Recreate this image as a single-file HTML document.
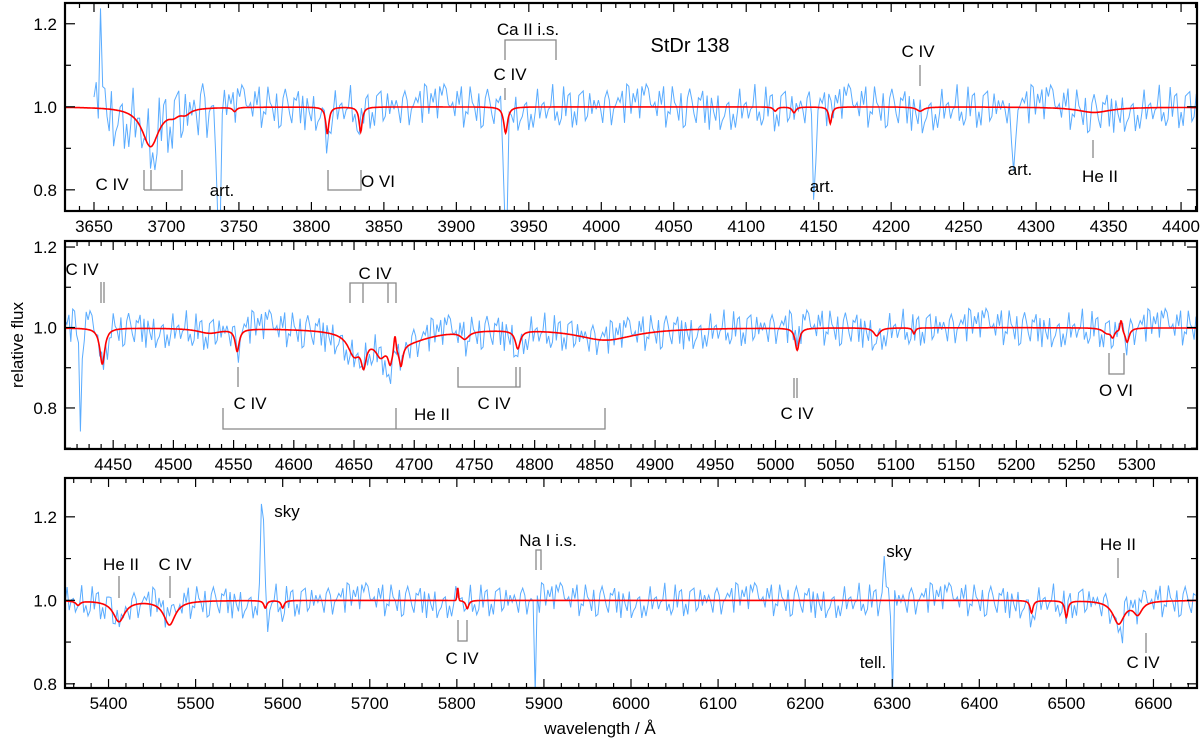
<!DOCTYPE html>
<html><head><meta charset="utf-8"><style>
html,body{margin:0;padding:0;background:#fff;}
svg{display:block;font-family:"Liberation Sans",sans-serif;}
.tl{font-size:17px;fill:#000;}
.an{font-size:17px;fill:#000;}
.br{stroke:#888;stroke-width:1.3;fill:none;}
</style></head><body>
<svg id="chart" width="1200" height="739" viewBox="0 0 1200 739" xmlns="http://www.w3.org/2000/svg">
<text class="tl" transform="translate(23,345) rotate(-90)" text-anchor="middle">relative flux</text>
<text class="tl" x="600" y="734" text-anchor="middle">wavelength / Å</text>
<text x="690" y="52" text-anchor="middle" style="font-size:20px">StDr 138</text>
</svg>
<script>
// ---- data ----
const panelRanges = [[3630, 4411], [4410, 5350], [5350, 6650]];
const fluxRanges = [[0.749, 1.25], [0.698, 1.215], [0.79, 1.293]];
const xMajorTicks = [
  [3650,3700,3750,3800,3850,3900,3950,4000,4050,4100,4150,4200,4250,4300,4350,4400],
  [4450,4500,4550,4600,4650,4700,4750,4800,4850,4900,4950,5000,5050,5100,5150,5200,5250,5300],
  [5400,5500,5600,5700,5800,5900,6000,6100,6200,6300,6400,6500,6600]];
const xMinorStep = [10, 10, 20];
const yTicks = [0.8, 1.0, 1.2];
// model absorption lines: wavelength, depth, width
const lineWave = [3689,3705,3713,3747,3811,3834,3934,4120,4133,4158,4220,4340,
  4441,4553,4530,4650,4658,4672,4680,4686,4689,4742,4786,4859,5018,5084,5115,5275,5280,5292,
  5365,5412,5470,5580,5600,5812,6460,6500,6560,6582];
const lineDepth = [0.095,0.012,0.012,0.01,0.065,0.06,0.063,0.01,0.014,0.04,0.01,0.013,
  0.09,0.055,0.012,0.05,0.06,0.035,0.04,0.04,0.05,0.018,0.045,0.03,0.055,0.02,0.015,0.012,0.02,0.035,
  0.01,0.05,0.058,0.018,0.018,0.02,0.03,0.04,0.055,0.03];
const lineWidth = [7,4,4,1.5,1.3,1.3,1.6,1.5,1.5,1.2,3,14,
  2.5,2,12,6,2.5,5,2,30,1.8,4,2.5,30,2,3,1.3,4,2,2,
  3,8,8,2,2,2,2,2,8,6];
// emission features in model
const emWave = [4684, 5287, 5801];
const emHeight = [0.04, 0.025, 0.03];
// features in observed spectrum: wavelength, delta flux, half width
const featWave = [3655,3736,3934,4147,4284,4423,4443,4680,5577,5582,5890,6290,6300,6562];
const featDelta = [0.22,-0.33,-0.27,-0.2,-0.19,-0.27,-0.04,-0.08,0.25,-0.13,-0.23,0.1,-0.23,-0.04];
const featHalf = [1.5,2,1.5,1.5,1.5,1.5,2,2,3,1.2,1.5,2,1.2,4];
const noise = [0.3,-0.6,0.9,-0.2,0.5,-1.0,0.1,0.7,-0.4,0.2,-0.8,1.0,-0.3,0.4,-0.7,0.6,0.0,-0.5,0.8,-0.9,
  0.2,0.5,-0.3,-0.6,0.9,0.1,-0.2,0.7,-1.0,0.3,0.6,-0.4,0.0,0.8,-0.7,0.4,-0.1,-0.9,0.5,0.2,
  -0.5,1.0,-0.2,0.3,-0.8,0.6,-0.4,0.1,0.9,-0.6,-0.1,0.4,-0.9,0.7,0.2,-0.3,0.5,-0.7,0.8,-0.2,
  0.1,-0.5,0.6,-1.0,0.4,0.3,-0.8,0.9,-0.1,0.2,-0.6,0.7,-0.3,0.5,-0.9,0.0,0.8,-0.4,0.3,-0.7,
  0.6,-0.2,1.0,-0.5,0.1,-0.8,0.4,0.7,-0.3,-0.6,0.9,0.2,-0.1];
const noiseAmp = [0.055, 0.048, 0.042];
const obsStart = [3650, 4410, 5350];
const obsStep = [1.5, 1.6, 2.4];
// ---- layout ----
const frames = [{x0:65,x1:1197,y0:3,y1:211},{x0:65,x1:1197,y0:241,y1:449},{x0:65,x1:1197,y0:478,y1:688}];
const NS = "http://www.w3.org/2000/svg";
const svg = document.getElementById("chart");
function mk(tag, attrs, parent){const e=document.createElementNS(NS,tag);for(const k in attrs)e.setAttribute(k,attrs[k]);(parent||svg).appendChild(e);return e;}
function model(w){let f=1;for(let i=0;i<lineWave.length;i++){const d=(w-lineWave[i])/lineWidth[i];f-=lineDepth[i]/(1+d*d);}
  for(let i=0;i<emWave.length;i++){const d=(w-emWave[i])/1.2;f+=emHeight[i]*Math.exp(-d*d);}return f;}
function feat(w){let f=0;for(let i=0;i<featWave.length;i++){const d=(w-featWave[i])/featHalf[i];f+=featDelta[i]*Math.exp(-d*d);}return f;}
frames.forEach((fr,p)=>{
  const [w0,w1]=panelRanges[p],[f0,f1]=fluxRanges[p];
  const X=w=>fr.x0+(w-w0)/(w1-w0)*(fr.x1-fr.x0);
  const Y=f=>fr.y1-(f-f0)/(f1-f0)*(fr.y1-fr.y0);
  const g=mk("g",{});
  
  
  const cid="clip"+p;
  const cp=mk("clipPath",{id:cid},g);mk("rect",{x:fr.x0,y:fr.y0,width:fr.x1-fr.x0,height:fr.y1-fr.y0},cp);
  let d="",i=0;
  for(let w=obsStart[p];w<=w1;w+=obsStep[p],i++){
    let amp=noiseAmp[p]*(p===0&&w<3730?1.6:1);
    const v=model(w)+feat(w)+amp*noise[(i*7+p*13)%noise.length];
    d+=(d?"L":"M")+X(w).toFixed(1)+","+Y(v).toFixed(1);
  }
  const obs=mk("path",{d:d,fill:"none",stroke:"#5aacff","stroke-width":"1","clip-path":"url(#"+cid+")"},g);
  
  
  let m="";
  for(let w=w0;w<=w1;w+=0.4){m+=(m?"L":"M")+X(w).toFixed(1)+","+Y(model(w)).toFixed(1);}
  const mod=mk("path",{d:m,fill:"none",stroke:"#ff0000","stroke-width":"1.6","clip-path":"url(#"+cid+")"},g);
  
  
  const fr2=mk("rect",{x:fr.x0,y:fr.y0,width:fr.x1-fr.x0,height:fr.y1-fr.y0,fill:"none",stroke:"#000","stroke-width":"2.2"},g);
  
  
  for(let w=Math.ceil(w0/xMinorStep[p])*xMinorStep[p];w<=w1;w+=xMinorStep[p]){
    const maj=xMajorTicks[p].includes(w),L=maj?9:5,x=X(w);
    mk("line",{x1:x,x2:x,y1:fr.y1,y2:fr.y1-L,stroke:"#000","stroke-width":"1.2"},g);
    mk("line",{x1:x,x2:x,y1:fr.y0,y2:fr.y0+L,stroke:"#000","stroke-width":"1.2"},g);
  }
  xMajorTicks[p].forEach(w=>{
    const t=mk("text",{x:X(w),y:fr.y1+21,"text-anchor":"middle",class:"tl"},g);t.textContent=w;
    
    
  });
  for(let f=0.7;f<=1.3;f+=0.1){
    const fv=Math.round(f*10)/10; if(fv<f0||fv>f1)continue;
    const maj=yTicks.includes(fv),L=maj?10:6,y=Y(fv);
    mk("line",{x1:fr.x0,x2:fr.x0+L,y1:y,y2:y,stroke:"#000","stroke-width":"1.2"},g);
    mk("line",{x1:fr.x1,x2:fr.x1-L,y1:y,y2:y,stroke:"#000","stroke-width":"1.2"},g);
  }
  yTicks.forEach(f=>{if(f<f0||f>f1)return;
    const t=mk("text",{x:fr.x0-8,y:Y(f)+6,"text-anchor":"end",class:"tl"},g);t.textContent=f.toFixed(1);
    
    
  });
});
</script>
<script>
const ann = document.getElementById("chart");
const A = [
 ["M144,170V190M151,170V190M144,190H182V170","C IV",112,190],
 ["","art.",222,196],["M328,170V190H361V170","O VI",378,187],
 ["M505,60V40H556V60","Ca II i.s.",528,35],["M505,88V100","C IV",510,80],
 ["M920,65V86","C IV",918,57],["","art.",822,192],["","art.",1020,175],["M1093,140V158","He II",1100,182],
 ["M101,282V303M104,282V303","C IV",82,275],
 ["M350,303V283H396V303M363,283V303M388,283V303","C IV",375,279],
 ["M238,367V387","C IV",250,409],
 ["M223,408V429H605V408M396,429V408","He II",432,420],
 ["M458,367V387H520V367M516,367V387","C IV",494,409],
 ["M794,378V398M797,378V398","C IV",797,419],
 ["M1109,353V374H1124V353","O VI",1116,396],
 ["M119,576V598","He II",121,570],["M170,576V598","C IV",175,570],["","sky",287,517],
 ["M458,620V641H467V620","C IV",462,664],["M536,570V550H541V570","Na I i.s.",548,546],
 ["","sky",899,557],["","tell.",873,668],["M1118,558V578","He II",1118,550],["M1146,633V653","C IV",1143,668]
];
A.forEach(a=>{
  if(a[0]){const p=document.createElementNS("http://www.w3.org/2000/svg","path");p.setAttribute("d",a[0]);p.setAttribute("class","br");
    
    
    ann.appendChild(p);}
  const t=document.createElementNS("http://www.w3.org/2000/svg","text");
  t.setAttribute("x",a[2]);t.setAttribute("y",a[3]);t.setAttribute("text-anchor","middle");t.setAttribute("class","an");
  
  
  t.textContent=a[1];ann.appendChild(t);
});
</script>
</body></html>
